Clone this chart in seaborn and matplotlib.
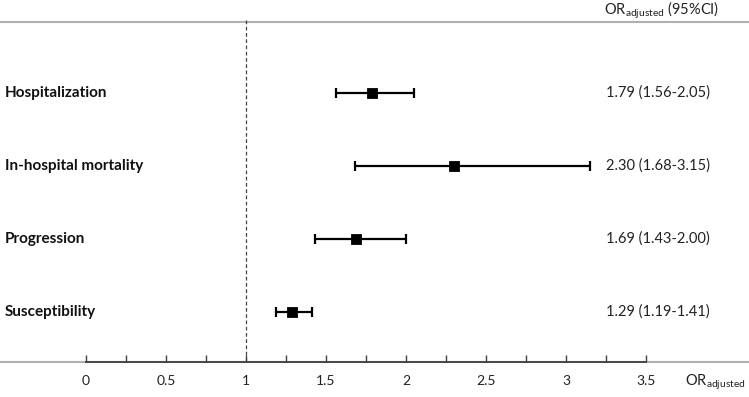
import matplotlib
matplotlib.use("Agg")
import matplotlib.pyplot as plt
import seaborn as sns
import numpy as np
import pandas as pd
from matplotlib.ticker import FixedLocator

sns.set_theme(style="white")
plt.rcParams['font.family'] = ['Lato', 'DejaVu Sans']

outcomes = ["Hospitalization", "In-hospital mortality", "Progression", "Susceptibility"]
or_adj = [1.79, 2.30, 1.69, 1.29]
ci_low = [1.56, 1.68, 1.43, 1.19]
ci_high = [2.05, 3.15, 2.00, 1.41]
ci_text = ["1.79 (1.56-2.05)", "2.30 (1.68-3.15)", "1.69 (1.43-2.00)", "1.29 (1.19-1.41)"]
xticks = [0, 0.5, 1, 1.5, 2, 2.5, 3, 3.5]
xtick_labels = ["0", "0.5", "1", "1.5", "2", "2.5", "3", "3.5"]
minor_ticks = [0.25, 0.75, 1.25, 1.75, 2.25, 2.75, 3.25]

df = pd.DataFrame({"outcome": outcomes, "or": or_adj, "lo": ci_low, "hi": ci_high,
                   "pos": np.arange(len(outcomes))})

fig = plt.figure(figsize=(7.49, 3.97), dpi=100)
ax = fig.add_axes([0, 0, 1, 1])
ax.set_xlim(-0.5375, 4.144)
ax.set_ylim(4.164, -1.274)

# CI bars
ax.errorbar(df["or"], df["pos"],
            xerr=[df["or"] - df["lo"], df["hi"] - df["or"]],
            fmt="none", ecolor="black", elinewidth=1.6, capsize=3.5, capthick=1.6, zorder=2)
sns.scatterplot(data=df, x="or", y="pos", marker="s", s=55, color="black",
                edgecolor="black", ax=ax, zorder=3, legend=False)

# reference line
ax.plot([1, 1], [-1.0, 3.685], color="#444444", linestyle=(0, (3, 2)), linewidth=0.9, zorder=1)

# top and bottom rules
ax.axhline(-0.973, color="#b0b0b0", linewidth=1.5, zorder=0)
ax.axhline(3.685, color="#b0b0b0", linewidth=1.5, zorder=0)

# bottom axis
for s in ["top", "right", "left"]:
    ax.spines[s].set_visible(False)
ax.spines["bottom"].set_position(("data", 3.685))
ax.spines["bottom"].set_bounds(0, 3.5)
ax.spines["bottom"].set_color("#404040")
ax.spines["bottom"].set_linewidth(1.3)
ax.spines["bottom"].set_zorder(1)
ax.set_xticks(xticks)
ax.set_xticklabels(xtick_labels)
ax.xaxis.set_minor_locator(FixedLocator(minor_ticks))
ax.tick_params(axis="x", which="both", direction="in", length=5, width=1, color="#404040",
               bottom=True, labelsize=10, labelcolor="#222222", pad=9)
ax.set_yticks([])
ax.set_xlabel("")
ax.set_ylabel("")

# row labels
for p, name in zip(df["pos"], outcomes):
    ax.text(-0.507, p, name, ha="left", va="center", fontsize=11, fontweight="bold", color="#111111")
for p, t in zip(df["pos"], ci_text):
    ax.text(3.9, p, t, ha="right", va="center", fontsize=10.5, color="#222222")

ax.text(3.96, -1.14, r"OR$_{\mathregular{adjusted}}$ (95%CI)", ha="right", va="center",
        fontsize=10.5, color="#222222")
ax.text(4.12, 3.96, r"OR$_{\mathregular{adjusted}}$", ha="right", va="center",
        fontsize=10.5, color="#222222")

fig.savefig("out.png", dpi=100)
